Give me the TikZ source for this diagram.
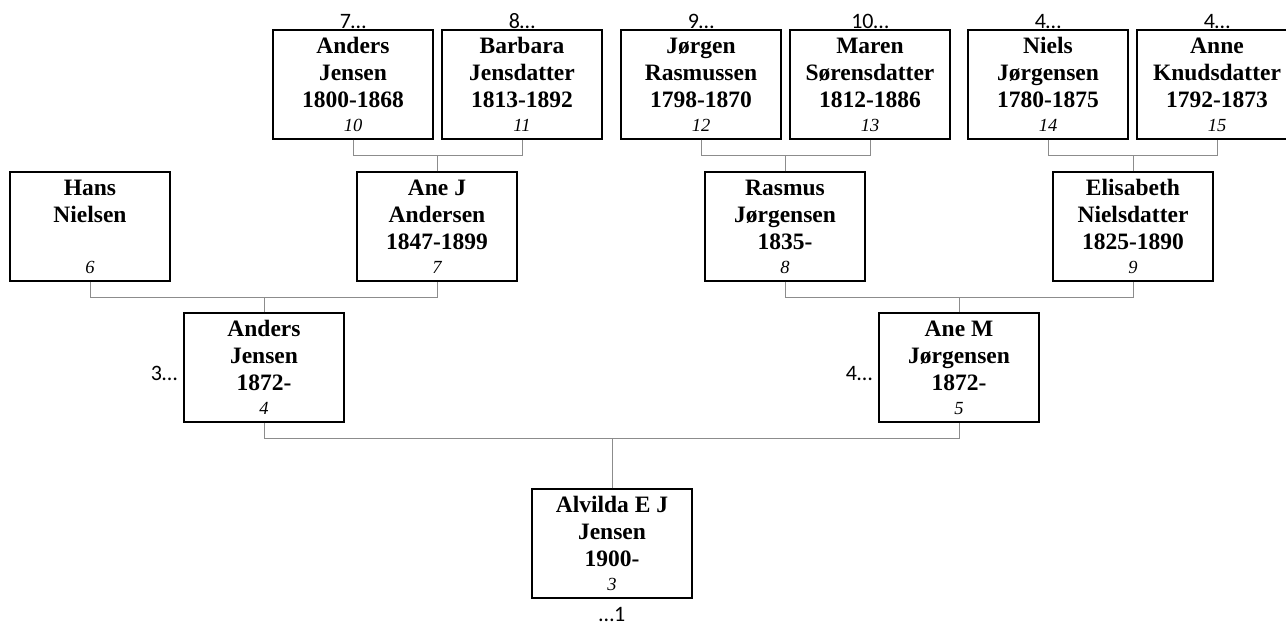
\documentclass[tikz,border=0pt]{standalone}
\usepackage{fontspec}
\setmainfont{Liberation Serif}
\newfontfamily\genfont{Carlito}
\newcommand{\pnum}[1]{{\fontsize{18.5}{21}\selectfont\mdseries\itshape #1}}

\begin{document}
\begin{tikzpicture}[x=1pt,y=-1pt,
        person/.style={rectangle,draw=black,line width=1.1pt,fill=white,minimum width=160pt,minimum height=109pt,inner sep=0pt,align=center,font=\fontsize{23.5}{27}\selectfont\bfseries},
        gen/.style={font=\genfont\fontsize{22}{26}\selectfont,inner sep=0pt},
        link/.style={draw=black!45,line width=1pt},
      ]
      \useasboundingbox (0,0) rectangle (1286,627);
      \node[person] at (353,84.5) (P10) {Anders\\Jensen\\1800-1868\\[-3pt]\pnum{10}};
      \node[person] at (522,84.5) (P11) {Barbara\\Jensdatter\\1813-1892\\[-3pt]\pnum{11}};
      \node[person] at (701,84.5) (P12) {Jørgen\\Rasmussen\\1798-1870\\[-3pt]\pnum{12}};
      \node[person] at (870,84.5) (P13) {Maren\\Sørensdatter\\1812-1886\\[-3pt]\pnum{13}};
      \node[person] at (1048,84.5) (P14) {Niels\\Jørgensen\\1780-1875\\[-3pt]\pnum{14}};
      \node[person] at (1217,84.5) (P15) {Anne\\Knudsdatter\\1792-1873\\[-3pt]\pnum{15}};
%
      \node[person] at (90,226.5) (P6) {Hans\\Nielsen\\\mbox{}\\[-3pt]\pnum{6}};
      \node[person] at (437,226.5) (P7) {Ane J\\Andersen\\1847-1899\\[-3pt]\pnum{7}};
      \node[person] at (785,226.5) (P8) {Rasmus\\Jørgensen\\1835-\\[-3pt]\pnum{8}};
      \node[person] at (1133,226.5) (P9) {Elisabeth\\Nielsdatter\\1825-1890\\[-3pt]\pnum{9}};
%
      \node[person] at (264,367.5) (P4) {Anders\\Jensen\\1872-\\[-3pt]\pnum{4}};
      \node[person] at (959,367.5) (P5) {Ane M\\Jørgensen\\1872-\\[-3pt]\pnum{5}};
%
      \node[person] at (612,543.5) (P3) {Alvilda E J\\Jensen\\1900-\\[-3pt]\pnum{3}};
%
      \node[gen,anchor=base] at ([yshift=1pt]P10.north) (G10) {7\ldots};
      \node[gen,anchor=base] at ([yshift=1pt]P11.north) (G11) {8\ldots};
      \node[gen,anchor=base] at ([yshift=1pt]P12.north) (G12) {9\ldots};
      \node[gen,anchor=base] at ([yshift=1pt]P13.north) (G13) {10\ldots};
      \node[gen,anchor=base] at ([yshift=1pt]P14.north) (G14) {4\ldots};
      \node[gen,anchor=base] at ([yshift=1pt]P15.north) (G15) {4\ldots};
      \node[gen,anchor=base east] at ([xshift=-6pt,yshift=-12.5pt]P4.west) (G4) {3\ldots};
      \node[gen,anchor=base east] at ([xshift=-6pt,yshift=-12.5pt]P5.west) (G5) {4\ldots};
      \node[gen,anchor=base] at ([yshift=-23pt]P3.south) (G3) {\ldots1};
%
      \draw[link] (P10.south) -- ++(0,16) coordinate (J7) -| (P11.south);
      \draw[link] (P7.north) -- (P7.north |- J7);
      \draw[link] (P12.south) -- ++(0,16) coordinate (J8) -| (P13.south);
      \draw[link] (P8.north) -- (P8.north |- J8);
      \draw[link] (P14.south) -- ++(0,16) coordinate (J9) -| (P15.south);
      \draw[link] (P9.north) -- (P9.north |- J9);
%
      \draw[link] (P6.south) -- ++(0,16) coordinate (J4) -| (P7.south);
      \draw[link] (P4.north) -- (P4.north |- J4);
      \draw[link] (P8.south) -- ++(0,16) coordinate (J5) -| (P9.south);
      \draw[link] (P5.north) -- (P5.north |- J5);
%
      \draw[link] (P4.south) -- ++(0,16) coordinate (J3) -| (P5.south);
      \draw[link] (P3.north) -- (P3.north |- J3);
    \end{tikzpicture}
\end{document}
